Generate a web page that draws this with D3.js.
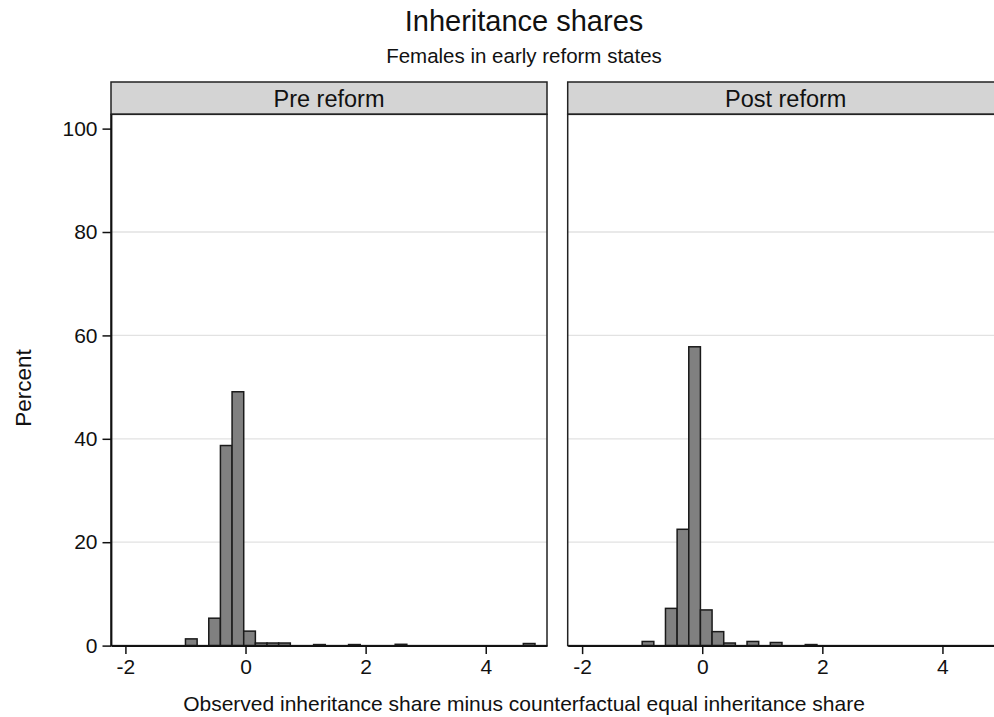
<!DOCTYPE html>
<html>
<head>
<meta charset="utf-8">
<script src="https://cdn.jsdelivr.net/npm/d3@7"></script>
<style>
  body { margin: 0; background: #fff; }
  text { font-family: Arial, "Liberation Sans", sans-serif; fill: #111; }
</style>
</head>
<body>
<script>
// histogram bins (Stata style: start + k * width)
const binStart = -1.0;
const binWidth = 0.194;

// percent per bin, k = 0..29
const preReform  = [1.3, 0, 5.3, 38.7, 49.1, 2.8, 0.5, 0.5, 0.5, 0, 0, 0.2, 0, 0, 0.2, 0, 0, 0, 0.25, 0, 0, 0, 0, 0, 0, 0, 0, 0, 0, 0.4];
const postReform = [0.8, 0, 7.2, 22.5, 57.8, 6.9, 2.7, 0.5, 0, 0.8, 0, 0.6, 0, 0, 0.2, 0, 0, 0, 0, 0, 0, 0, 0, 0, 0, 0, 0, 0, 0, 0];

const panelNames = ["Pre reform", "Post reform"];
const xTicks = [-2, 0, 2, 4];
const yTicks = [0, 20, 40, 60, 80, 100];
const yGrid = [20, 40, 60, 80];

const width = 994, height = 717;
const panelW = 436;
const panelTop = 114.3, panelBottom = 645.6;
const stripTop = 82;
const panelX = [111, 567.7];

const svg = d3.select("body").append("svg")
    .attr("width", width)
    .attr("height", height);

const x = d3.scaleLinear().domain([-2.24, 5.02]).range([0, panelW]);
const y = d3.scaleLinear().domain([0, 102.77]).range([panelBottom, panelTop]);

// titles
svg.append("text")
    .attr("x", 524).attr("y", 31)
    .attr("text-anchor", "middle")
    .style("font-size", "29px")
    .text("Inheritance shares");

svg.append("text")
    .attr("x", 524).attr("y", 62.5)
    .attr("text-anchor", "middle")
    .style("font-size", "20.5px")
    .text("Females in early reform states");

[preReform, postReform].forEach((vals, p) => {
    let g = svg.append("g").attr("transform", `translate(${panelX[p]},0)`);

    // header strip
    g.append("rect")
        .attr("x", 0).attr("y", stripTop)
        .attr("width", panelW).attr("height", panelTop - stripTop)
        .attr("fill", "#d4d4d4")
        .attr("stroke", "#222").attr("stroke-width", 1.5);

    g.append("text")
        .attr("x", panelW / 2).attr("y", 106.5)
        .attr("text-anchor", "middle")
        .style("font-size", "23.5px")
        .text(panelNames[p]);

    // grid
    g.selectAll(".grid").data(yGrid).enter().append("line")
        .attr("x1", 0).attr("x2", panelW)
        .attr("y1", d => y(d)).attr("y2", d => y(d))
        .attr("stroke", "#e2e2e2").attr("stroke-width", 1.3);

    // bars
    let bins = vals.map((v, k) => ({ x0: binStart + k * binWidth, x1: binStart + (k + 1) * binWidth, v: v }))
        .filter(d => d.v > 0);

    g.selectAll(".bar").data(bins).enter().append("rect")
        .attr("x", d => x(d.x0))
        .attr("width", d => x(d.x1) - x(d.x0))
        .attr("y", d => y(d.v))
        .attr("height", d => y(0) - y(d.v))
        .attr("fill", "#808080")
        .attr("stroke", "#1a1a1a")
        .attr("stroke-width", 1.5);

    // panel box
    g.append("rect")
        .attr("x", 0).attr("y", panelTop)
        .attr("width", panelW).attr("height", panelBottom - panelTop)
        .attr("fill", "none")
        .attr("stroke", "#222").attr("stroke-width", 1.5);

    // x axis
    let xAxis = g.append("g")
        .attr("transform", `translate(0,${panelBottom})`)
        .call(d3.axisBottom(x).tickValues(xTicks).tickSizeInner(8.5).tickSizeOuter(0).tickPadding(5)
            .tickFormat(d => d < 0 ? "-" + Math.abs(d) : d));
    xAxis.select(".domain").attr("stroke", "#111").attr("stroke-width", 1.8);
    xAxis.selectAll(".tick line").attr("stroke", "#111").attr("stroke-width", 1.5);
    xAxis.selectAll("text").style("font-size", "21px").attr("fill", "#111");

    if (p === 0) {
        let yAxis = g.append("g")
            .call(d3.axisLeft(y).tickValues(yTicks).tickSizeInner(8.5).tickSizeOuter(0).tickPadding(5));
        yAxis.select(".domain").attr("stroke", "#111").attr("stroke-width", 1.8);
        yAxis.selectAll(".tick line").attr("stroke", "#111").attr("stroke-width", 1.5);
        yAxis.selectAll("text").style("font-size", "21px").attr("fill", "#111");
    }
});

// axis titles
svg.append("text")
    .attr("x", 524).attr("y", 711)
    .attr("text-anchor", "middle")
    .style("font-size", "21px")
    .text("Observed inheritance share minus counterfactual equal inheritance share");

svg.append("text")
    .attr("transform", "translate(31,388) rotate(-90)")
    .attr("text-anchor", "middle")
    .style("font-size", "22.5px")
    .text("Percent");
</script>
</body>
</html>
